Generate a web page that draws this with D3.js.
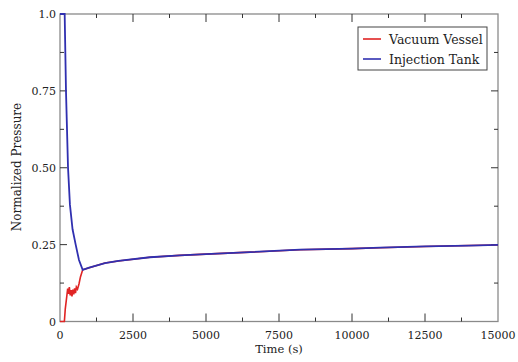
<!DOCTYPE html>
<html lang="en">
<head>
  <meta charset="UTF-8" />
  <title>pressure chart</title>
  <script src="https://d3js.org/d3.v7.min.js" charset="utf-8"></script>
  <style>
    body { margin: 0; background: #fff; }
    text { font-family: "DejaVu Serif", "Liberation Serif", serif; fill: #222; }
  </style>
</head>
<body>
<script type="text/javascript">

const WIDTH = 518;
const HEIGHT = 362;

// data
var tankTime  = [0, 160, 205, 275, 340, 430, 537, 650, 777, 1000, 1540, 2000, 3080, 4100, 5000, 6510, 8220, 10000, 10960, 12500, 14000, 15000];
var tankValue = [1.0, 1.0, 0.75, 0.5, 0.38, 0.3, 0.25, 0.2, 0.168, 0.175, 0.19, 0.197, 0.209, 0.215, 0.219, 0.2255, 0.2335, 0.237, 0.24, 0.244, 0.247, 0.249];

var vesselTime  = [0, 150, 180, 230, 263, 290, 320, 350, 380, 410, 440, 470, 500, 530, 560, 600, 650, 700, 777, 1000, 1540, 2000, 3080, 4100, 5000, 6510, 8220, 10000, 10960, 12500, 14000, 15000];
var vesselValue = [0, 0, 0.04, 0.08, 0.107, 0.09, 0.112, 0.085, 0.102, 0.082, 0.104, 0.088, 0.108, 0.092, 0.112, 0.105, 0.122, 0.145, 0.168, 0.175, 0.19, 0.197, 0.209, 0.215, 0.219, 0.2255, 0.2335, 0.237, 0.24, 0.244, 0.247, 0.249];

var xTicks = [0, 2500, 5000, 7500, 10000, 12500, 15000];
var yTicks = [0, 0.25, 0.5, 0.75, 1.0];
var yTickLabels = ["0", "0.25", "0.50", "0.75", "1.0"];

var seriesNames = ["Vacuum Vessel", "Injection Tank"];
var seriesColors = ["#e02424", "#3030b0"];

const L = 60, R = 498, T = 14, B = 321.5;

var svg = d3.select("body")
    .append("svg")
        .attr("width", WIDTH)
        .attr("height", HEIGHT);

const xScale = d3.scaleLinear().domain([0, 15000]).range([L, R]);
const yScale = d3.scaleLinear().domain([0, 1]).range([B, T]);

var xMinor = d3.range(1250, 15000, 2500);
var yMinor = d3.range(0.125, 1, 0.25);

// frame
svg.append("rect")
    .attr("x", L).attr("y", T)
    .attr("width", R - L).attr("height", B - T)
    .attr("fill", "none")
    .attr("stroke", "#8a8a8a")
    .attr("stroke-width", 1.3);

// ticks on all four sides
function tickSet(vals, len, horiz) {
    var g = svg.append("g").attr("stroke", "#333").attr("stroke-width", 1);
    if (horiz) {
        vals.forEach(v => {
            g.append("line").attr("x1", xScale(v)).attr("x2", xScale(v)).attr("y1", B).attr("y2", B - len);
            g.append("line").attr("x1", xScale(v)).attr("x2", xScale(v)).attr("y1", T).attr("y2", T + len);
        });
    } else {
        vals.forEach(v => {
            g.append("line").attr("y1", yScale(v)).attr("y2", yScale(v)).attr("x1", L).attr("x2", L + len);
            g.append("line").attr("y1", yScale(v)).attr("y2", yScale(v)).attr("x1", R).attr("x2", R - len);
        });
    }
}
tickSet(xTicks.slice(1, -1), 8, true);
tickSet(xMinor, 4, true);
tickSet(yTicks.slice(1, -1), 7, false);
tickSet(yMinor, 4, false);

// tick labels
svg.append("g").selectAll("text")
    .data(xTicks)
    .enter().append("text")
        .attr("x", d => xScale(d))
        .attr("y", B + 17)
        .attr("text-anchor", "middle")
        .attr("font-size", 11)
        .text(d => d);

svg.append("g").selectAll("text")
    .data(yTicks)
    .enter().append("text")
        .attr("x", L - 4)
        .attr("y", d => yScale(d) + 4)
        .attr("text-anchor", "end")
        .attr("font-size", 11)
        .text((d, i) => yTickLabels[i]);

// axis titles
svg.append("text")
    .attr("x", (L + R) / 2)
    .attr("y", 353)
    .attr("text-anchor", "middle")
    .attr("font-size", 11.5)
    .text("Time (s)");
svg.append("text")
    .attr("transform", "translate(21, 167) rotate(-90)")
    .attr("text-anchor", "middle")
    .attr("font-size", 12)
    .text("Normalized Pressure");

// lines
var line = d3.line()
    .x(d => xScale(d[0]))
    .y(d => yScale(d[1]));

var plot = svg.append("g");
plot.append("path")
    .datum(d3.zip(vesselTime, vesselValue))
    .attr("fill", "none")
    .attr("stroke", seriesColors[0])
    .attr("stroke-width", 1.6)
    .attr("d", line);
plot.append("path")
    .datum(d3.zip(tankTime, tankValue))
    .attr("fill", "none")
    .attr("stroke", seriesColors[1])
    .attr("stroke-width", 1.8)
    .attr("d", line);

// legend
var lg = svg.append("g").attr("transform", "translate(358, 27)");
lg.append("rect")
    .attr("width", 129).attr("height", 43)
    .attr("fill", "#fff")
    .attr("stroke", "#444")
    .attr("stroke-width", 1);
seriesNames.forEach((name, i) => {
    lg.append("line")
        .attr("x1", 5).attr("x2", 23)
        .attr("y1", 12 + i * 20).attr("y2", 12 + i * 20)
        .attr("stroke", seriesColors[i])
        .attr("stroke-width", 1.6);
    lg.append("text")
        .attr("x", 31).attr("y", 16.5 + i * 20)
        .attr("font-size", 12.5)
        .text(name);
});

</script>
</body>
</html>
